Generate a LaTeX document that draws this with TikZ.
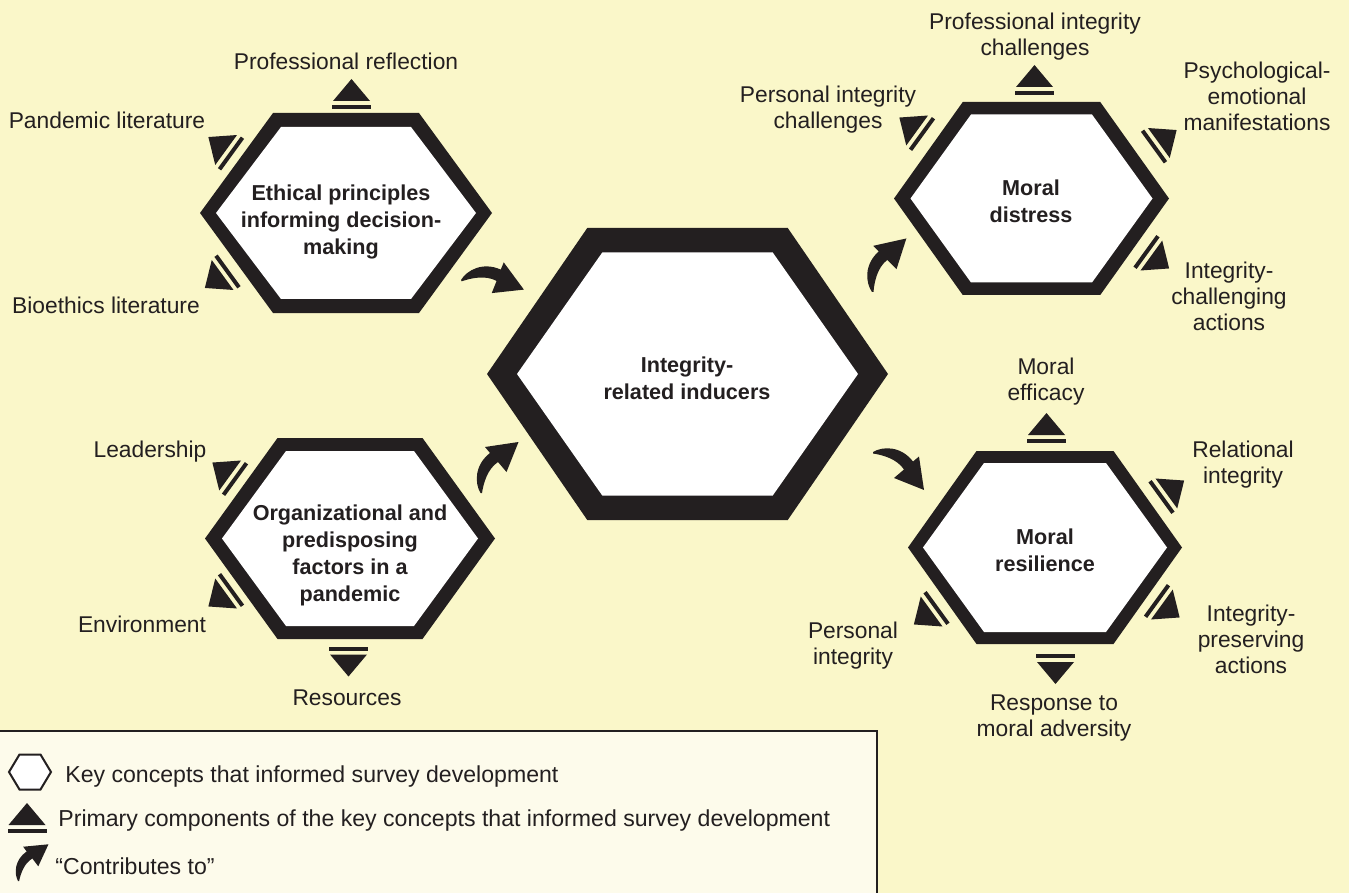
\documentclass[tikz,border=0pt]{standalone}
\usepackage{fontspec}
\setmainfont{Liberation Sans}

\definecolor{ink}{RGB}{35,31,32}
\definecolor{paper}{RGB}{250,247,201}
\definecolor{legendbg}{RGB}{253,251,235}

\newcommand{\keyhex}[6]{%
  \fill[ink,shift={(#1,#2)}] (-#3,0) -- (-#3/2,-#4) -- (#3/2,-#4) -- (#3,0) -- (#3/2,#4) -- (-#3/2,#4) -- cycle;
  \fill[white,shift={(#1,#2)}] (-#5,0) -- (-#5/2,-#6) -- (#5/2,-#6) -- (#5,0) -- (#5/2,#6) -- (-#5/2,#6) -- cycle;
}

\begin{document}
\begin{tikzpicture}[x=0.5pt,y=-0.5pt]
    \tikzset{keytext/.style={font=\bfseries\fontsize{10.8}{13.5}\selectfont, align=center, text=ink, yshift=-1pt}}
    \tikzset{comptext/.style={font=\fontsize{11.4}{13}\selectfont, align=center, text=ink, inner sep=0pt, yshift=-1.25pt}}
    \tikzset{legtext/.style={comptext, anchor=west, font=\fontsize{11.55}{13}\selectfont}}
    \tikzset{comp/.pic={
      \fill[ink] (-19.5,-2) rectangle (19.5,2);
      \fill[ink] (-18.5,-6) -- (18.5,-6) -- (0,-28) -- cycle;
    }}
    \tikzset{contrib/.pic={
      \fill[ink] (0,0) .. controls (-6,-10) and (-6,-28) .. (9.5,-40) -- (4.5,-46) -- (38,-51)
        -- (26,-21) -- (17.5,-31) .. controls (7,-24) and (3,-10) .. (1.5,0) -- cycle;
    }}
    \fill[paper] (0,0) rectangle (1349,893);
    \useasboundingbox (0,0) rectangle (1349,893);

    \keyhex{346}{213}{146}{100}{130}{86}
    \keyhex{350}{538.5}{145}{100.5}{128}{87.5}
    \keyhex{687.5}{374}{200.5}{146}{170.5}{121.5}
    \keyhex{1031.5}{198.5}{137.5}{96.5}{121}{84}
    \keyhex{1045}{547.5}{137}{96.5}{122}{84.5}

    \node[keytext] (ethic) at (341,220) {Ethical principles\\informing decision-\\making};
    \node[keytext] (organ) at (350,553) {Organizational and\\predisposing\\factors in a\\pandemic};
    \node[keytext] (induce) at (687,376) {Integrity-\\related inducers};
    \node[keytext] (distress) at (1031,199) {Moral\\distress};
    \node[keytext] (resil) at (1045,548) {Moral\\resilience};

    \pic at (351.5,107) {comp};
    \pic[rotate=54] at (231,153.5) {comp};
    \pic[rotate=126] at (227.5,271.5) {comp};
    \pic[rotate=54] at (235,479) {comp};
    \pic[rotate=126] at (231,590) {comp};
    \pic[rotate=180] at (348.5,648.5) {comp};
    \pic at (1034.5,93) {comp};
    \pic[rotate=54] at (922,134) {comp};
    \pic[rotate=-54] at (1154,146.5) {comp};
    \pic[rotate=-126] at (1146.5,252) {comp};
    \pic at (1046.5,441) {comp};
    \pic[rotate=-54] at (1161.5,497) {comp};
    \pic[rotate=-126] at (1157,601) {comp};
    \pic[rotate=180] at (1055.5,656) {comp};
    \pic[rotate=126] at (936.5,608) {comp};

    \node[comptext] (reflect) at (346,59) {Professional reflection};
    \node[comptext] (pandlit) at (107,118) {Pandemic literature};
    \node[comptext] (biolit) at (106,303) {Bioethics literature};
    \node[comptext] (leader) at (150,449) {Leadership};
    \node[comptext] (environ) at (142,622) {Environment};
    \node[comptext] (resour) at (347,695) {Resources};
    \node[comptext] (profint) at (1035,34) {Professional integrity\\challenges};
    \node[comptext] (persch) at (828,107) {Personal integrity\\challenges};
    \node[comptext] (psych) at (1257,94) {Psychological-\\emotional\\manifestations};
    \node[comptext] (intch) at (1229,294) {Integrity-\\challenging\\actions};
    \node[comptext] (efficacy) at (1046,379) {Moral\\efficacy};
    \node[comptext] (relint) at (1243,462) {Relational\\integrity};
    \node[comptext] (intpres) at (1251,637) {Integrity-\\preserving\\actions};
    \node[comptext] (response) at (1054,716) {Response to\\moral adversity};
    \node[comptext] (persint) at (853,643) {Personal\\integrity};

    \pic[rotate=-62] at (461,280) {contrib};
    \pic at (480.5,493) {contrib};
    \pic[rotate=4] at (872,292) {contrib};
    \pic[rotate=-90] at (873,452) {contrib};

    \draw[ink,line width=0.6pt,fill=legendbg] (-5,731) rectangle (877,900);
    \draw[ink,line width=1pt,fill=white] (9,772) -- (19.5,754.5) -- (40.5,754.5) -- (51,772) -- (40.5,789.5) -- (19.5,789.5) -- cycle;
    \pic at (27,831) {comp};
    \pic[scale=.75,rotate=-3] at (18,881) {contrib};
    \node[legtext] (keyleg) at (65,774) {Key concepts that informed survey development};
    \node[legtext] (compleg) at (58,818) {Primary components of the key concepts that informed survey development};
    \node[legtext] (contleg) at (55,864) {“Contributes to”};
  \end{tikzpicture}
\end{document}
